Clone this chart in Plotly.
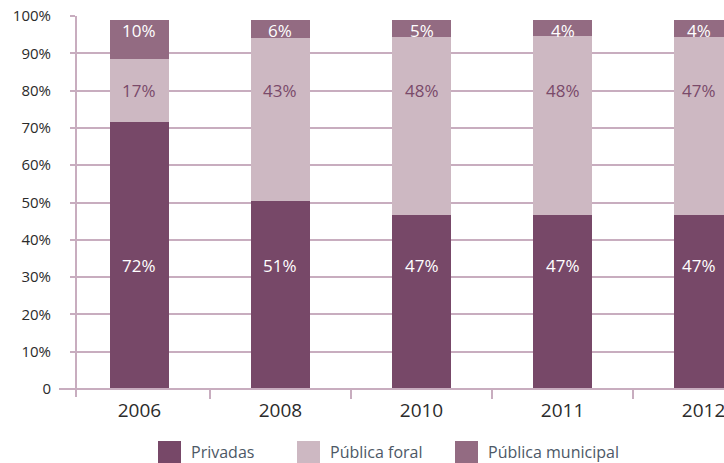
import plotly.graph_objects as go

years = ["2006", "2008", "2010", "2011", "2012"]
privadas = [71.6, 50.4, 46.6, 46.6, 46.6]
publica_foral = [16.9, 43.7, 47.8, 48.0, 47.8]
publica_municipal = [10.4, 4.8, 4.5, 4.3, 4.5]
lbl_privadas = ["72%", "51%", "47%", "47%", "47%"]
lbl_foral = ["17%", "43%", "48%", "48%", "47%"]
lbl_municipal = ["10%", "6%", "5%", "4%", "4%"]
y_ticks = [0, 10, 20, 30, 40, 50, 60, 70, 80, 90, 100]
y_ticktext = ["0", "10%", "20%", "30%", "40%", "50%", "60%", "70%", "80%", "90%", "100%"]

C_PRIV = "#774868"
C_FORAL = "#cdb8c2"
C_MUN = "#936b82"
C_AXIS = "#c8adbf"
FONT = "Open Sans"

W, H = 724, 463
L, R, T, B = 76, 0, 16, 74
X_LO, X_HI = -0.45, 4.145
BAR_W = 0.418

fig = go.Figure()
for name, vals, col in [("Privadas", privadas, C_PRIV),
                        ("Pública foral", publica_foral, C_FORAL),
                        ("Pública municipal", publica_municipal, C_MUN)]:
    fig.add_trace(go.Bar(x=years, y=vals, name=name, marker=dict(color=col, line=dict(width=0)),
                         width=BAR_W, showlegend=False, hoverinfo="skip"))

annotations = []
def label_x(i):
    a = max(i - BAR_W / 2, X_LO)
    b = min(i + BAR_W / 2, X_HI)
    return (a + b) / 2

for i in range(len(years)):
    annotations.append(dict(x=label_x(i), y=33.2, xref="x", yref="y", text=lbl_privadas[i],
                            showarrow=False, font=dict(family=FONT, size=17, color="#ffffff")))
    annotations.append(dict(x=label_x(i), y=80, xref="x", yref="y", text=lbl_foral[i],
                            showarrow=False, font=dict(family=FONT, size=17, color="#7a4a6a")))
    annotations.append(dict(x=label_x(i), y=96, xref="x", yref="y", text=lbl_municipal[i],
                            showarrow=False, font=dict(family=FONT, size=17, color="#ffffff")))

pw = W - L - R
ph = H - T - B
def px(x):
    return (x - L) / pw
def py(y):
    return (H - B - y) / ph

shapes = []
# axis line extensions
shapes.append(dict(type="line", xref="paper", yref="paper", x0=px(59), x1=1, y0=0, y1=0,
                   line=dict(color=C_AXIS, width=2)))
shapes.append(dict(type="line", xref="paper", yref="paper", x0=0, x1=0, y0=py(397), y1=1,
                   line=dict(color=C_AXIS, width=2)))

# manual legend
legend_items = [("Privadas", C_PRIV, 158), ("Pública foral", C_FORAL, 297), ("Pública municipal", C_MUN, 455)]
for name, col, x0 in legend_items:
    shapes.append(dict(type="rect", xref="paper", yref="paper", x0=px(x0), x1=px(x0 + 23),
                       y0=py(464), y1=py(441), fillcolor=col, line=dict(width=0)))
    annotations.append(dict(x=px(x0 + 31), y=py(452), xref="paper", yref="paper", text=name,
                            xanchor="left", yanchor="middle", showarrow=False,
                            font=dict(family=FONT, size=16, color="#4d5866")))

fig.update_layout(
    width=W, height=H,
    margin=dict(l=L, r=R, t=T, b=B, pad=0),
    barmode="stack",
    plot_bgcolor="#ffffff", paper_bgcolor="#ffffff",
    showlegend=False,
    font=dict(family=FONT),
    annotations=annotations,
    shapes=shapes,
    xaxis=dict(type="category", range=[X_LO, X_HI], showgrid=False, zeroline=False,
               showline=False, ticks="outside", tickson="boundaries", ticklen=9, tickwidth=2,
               tickcolor=C_AXIS, tickfont=dict(family=FONT, size=19, color="#2b2b2b"),
               ticklabelstandoff=8, automargin=False, fixedrange=True),
    yaxis=dict(range=[0, 100], tickvals=y_ticks, ticktext=y_ticktext, showgrid=True,
               gridcolor=C_AXIS, gridwidth=1.5, zeroline=False, showline=False,
               ticks="outside", ticklen=5, tickwidth=1.5, tickcolor=C_AXIS,
               tickfont=dict(family=FONT, size=15, color="#2b2b2b"),
               ticklabelstandoff=16, automargin=False, fixedrange=True),
)

fig.write_html("out.html", config={"displayModeBar": False},
               post_script="document.body.style.margin='0';document.body.style.overflow='hidden';")
